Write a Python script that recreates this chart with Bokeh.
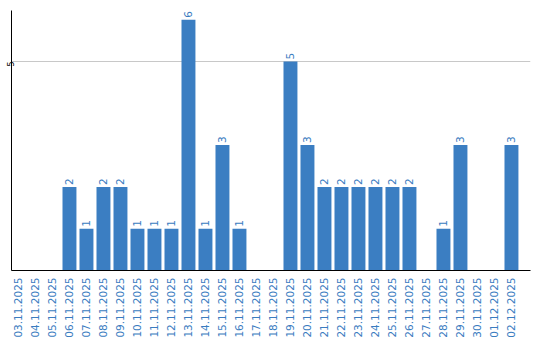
import math
from bokeh.plotting import figure
from bokeh.models import ColumnDataSource, FixedTicker, Range1d
from bokeh.embed import file_html
from bokeh.resources import INLINE
from bokeh.core.properties import value

dates = ["03.11.2025", "04.11.2025", "05.11.2025", "06.11.2025", "07.11.2025",
         "08.11.2025", "09.11.2025", "10.11.2025", "11.11.2025", "12.11.2025",
         "13.11.2025", "14.11.2025", "15.11.2025", "16.11.2025", "17.11.2025",
         "18.11.2025", "19.11.2025", "20.11.2025", "21.11.2025", "22.11.2025",
         "23.11.2025", "24.11.2025", "25.11.2025", "26.11.2025", "27.11.2025",
         "28.11.2025", "29.11.2025", "30.11.2025", "01.12.2025", "02.12.2025"]
counts = [0, 0, 0, 2, 1, 2, 2, 1, 1, 1, 6, 1, 3, 1, 0, 0, 5, 3, 2, 2, 2, 2, 2, 2, 0, 1, 3, 0, 0, 3]

BAR = "#3b7ec2"
TXT = "#3a7cbf"

idx = list(range(len(dates)))
src = ColumnDataSource(dict(x=idx, y=counts))
lab_x = [i for i, c in zip(idx, counts) if c > 0]
lab_y = [c for c in counts if c > 0]
lab_t = [str(c) for c in counts if c > 0]
lsrc = ColumnDataSource(dict(x=lab_x, y=lab_y, t=lab_t))

p = figure(width=540, height=340, output_backend="svg", toolbar_location=None,
           x_range=Range1d(-0.41, 30.12), y_range=Range1d(0, 6.22),
           min_border_left=9, min_border_right=10, min_border_top=10, min_border_bottom=0)
p.outline_line_color = None
p.background_fill_color = "white"

p.vbar(x="x", top="y", width=0.82, source=src, color=BAR, line_color=None)
p.text(x="x", y="y", text="t", source=lsrc, angle=math.pi / 2, text_align="left",
       text_baseline="middle", y_offset=-2, text_color=TXT, text_font_size="10.5px",
       text_font=value("DejaVu Sans"))

p.xgrid.grid_line_color = None
p.ygrid.grid_line_color = "#c8c8c8"
p.ygrid.ticker = FixedTicker(ticks=[5])

p.xaxis.ticker = FixedTicker(ticks=idx)
p.xaxis.major_label_overrides = {i: d for i, d in zip(idx, dates)}
p.xaxis.major_label_orientation = math.pi / 2
p.xaxis.major_label_text_color = TXT
p.xaxis.major_label_text_font = "DejaVu Sans"
p.xaxis.major_label_text_font_size = "10.5px"
p.xaxis.major_tick_line_color = None
p.xaxis.minor_tick_line_color = None
p.xaxis.axis_line_color = "black"
p.xaxis.major_label_standoff = 1

p.yaxis.ticker = FixedTicker(ticks=[5])
p.yaxis.major_label_orientation = math.pi / 2
p.yaxis.major_label_text_color = "black"
p.yaxis.major_label_text_font = "DejaVu Sans"
p.yaxis.major_label_text_font_size = "8px"
p.yaxis.major_tick_line_color = None
p.yaxis.major_tick_out = 0
p.yaxis.major_tick_in = 0
p.yaxis.minor_tick_line_color = None
p.yaxis.axis_line_color = "black"
p.yaxis.major_label_standoff = 1

open("out.html", "w").write(file_html(p, INLINE))
